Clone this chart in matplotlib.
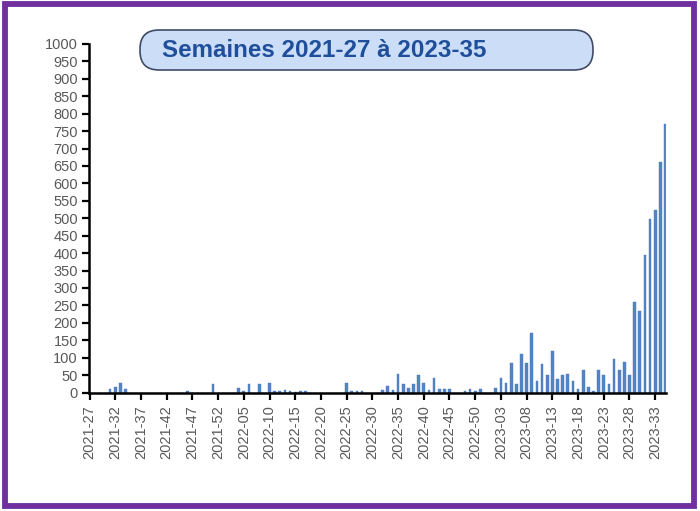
import matplotlib
matplotlib.use("Agg")
import matplotlib.pyplot as plt
from matplotlib.patches import FancyBboxPatch, Rectangle
import numpy as np

title = "Semaines 2021-27 à 2023-35"

# weekly counts, 2021-27 ... 2023-35 (113 weeks)
values = [
    0, 0, 0, 0, 10, 15, 28, 11, 0, 0,
    0, 0, 0, 0, 0, 0, 0, 0, 0, 3,
    0, 0, 0, 0, 24, 0, 0, 0, 0, 12,
    5, 24, 0, 24, 0, 28, 4, 4, 7, 4,
    2, 3, 3, 0, 0, 0, 0, 0, 0, 0,
    28, 4, 4, 4, 0, 0, 0, 8, 19, 8,
    52, 23, 14, 23, 50, 27, 8, 42, 11, 10,
    9, 0, 0, 4, 10, 4, 11, 0, 0, 12,
    43, 28, 85, 24, 111, 84, 170, 34, 81, 50,
    118, 38, 50, 54, 34, 11, 65, 17, 5, 65,
    50, 24, 96, 65, 88, 50, 261, 235, 395, 498,
    524, 660, 771,
]

tick_labels = [
    "2021-27", "2021-32", "2021-37", "2021-42", "2021-47", "2021-52",
    "2022-05", "2022-10", "2022-15", "2022-20", "2022-25", "2022-30",
    "2022-35", "2022-40", "2022-45", "2022-50", "2023-03", "2023-08",
    "2023-13", "2023-18", "2023-23", "2023-28", "2023-33",
]
tick_step = 5

plt.rcParams['font.family'] = ['Liberation Sans', 'DejaVu Sans']

fig = plt.figure(figsize=(7.0, 5.11), dpi=100)
fig.patch.set_facecolor('white')

# background overlay in pixel coordinates
bg = fig.add_axes([0, 0, 1, 1], zorder=0)
bg.set_xlim(0, 700)
bg.set_ylim(511, 0)
bg.axis('off')
bg.add_patch(Rectangle((4.5, 4.3), 689.5, 502, fill=False, edgecolor='#70309F', linewidth=4.2))
bg.add_patch(FancyBboxPatch((140, 30), 453, 40, boxstyle="round,pad=0,rounding_size=19",
                            facecolor='#CCDDF8', edgecolor='#3F4B66', linewidth=1.2))
bg.text(162, 50.5, title, fontsize=17.4, fontweight='bold', color='#1F4E9A',
        ha='left', va='center')

ax = fig.add_axes([89/700, 1-392.5/511, 577/700, (392.5-44)/511], zorder=1)
ax.patch.set_alpha(0)
x = np.arange(len(values))
ax.bar(x, values, width=0.55, color='#5584C4', edgecolor='#4A78B8', linewidth=0.3)

ax.set_xlim(-0.1, len(values) - 1 + 0.1)
ax.set_ylim(0, 1000)
ax.set_yticks(np.arange(0, 1001, 50))
ax.tick_params(axis='y', direction='out', length=5, width=1.6, color='black',
               labelsize=10.5, labelcolor='#595959', pad=3)
ax.set_xticks(np.arange(0, len(values), tick_step)[:len(tick_labels)])
ax.set_xticklabels(tick_labels, rotation=90)
ax.tick_params(axis='x', direction='out', length=5, width=1.6, color='black',
               labelsize=10.5, labelcolor='#595959', pad=4)
for s in ['top', 'right']:
    ax.spines[s].set_visible(False)
for s in ['left', 'bottom']:
    ax.spines[s].set_linewidth(1.8)
    ax.spines[s].set_color('black')

fig.savefig('out.png', dpi=100)
